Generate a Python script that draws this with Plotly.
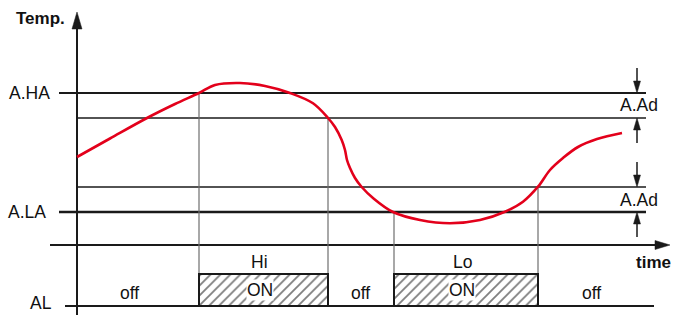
import plotly.graph_objects as go

# ---------------- data (time units / temperature units) ----------------
curve_time = [0, 33, 70, 98, 122, 138, 163, 188, 213, 236, 251, 258, 264.7, 268, 270, 273, 278, 284.7,
              296, 316, 343, 373, 403, 428, 446, 461, 473, 486, 501, 520, 545]
curve_temp = [88, 106.5, 127, 141, 152, 160, 162, 159, 152, 141.7, 127, 118, 105, 95, 85, 77, 67, 58,
              47, 33, 25, 21.7, 25, 33.3, 43.3, 58.3, 75, 87, 98, 106, 112]

A_HA = 152          # high alarm level
A_LA = 33           # low alarm level
A_Ad = 25           # alarm differential
level_labels = ["A.HA", "A.LA"]

# alarm ON intervals (start, end) and labels
on_start = [122, 317]
on_end = [251, 461]
on_labels = ["Hi", "Lo"]
off_centers = [52, 283, 514]

AL_base = -61       # alarm output baseline
AL_high = -29       # alarm output ON level
line_end = 569
AL_end = 577
ad_x = 560

BLACK = "#1a1a1a"
GREY = "#6e6e6e"
RED = "#e3001b"
FONT = "Liberation Sans, Arial, sans-serif"
BFONT = "Liberation Sans Narrow, Arial Narrow, Liberation Sans, Arial, sans-serif"

fig = go.Figure()

# alarm output boxes (hatched bars)
fig.add_trace(go.Bar(
    x=[(s + e) / 2 for s, e in zip(on_start, on_end)],
    y=[AL_high - AL_base] * len(on_start),
    base=[AL_base] * len(on_start),
    width=[e - s for s, e in zip(on_start, on_end)],
    marker=dict(color="white", line=dict(color=BLACK, width=2),
                pattern=dict(shape="/", fgcolor="#000", bgcolor="white", size=7, solidity=0.26)),
    hoverinfo="skip", showlegend=False,
))

# temperature curve
fig.add_trace(go.Scatter(
    x=curve_time, y=curve_temp, mode="lines",
    line=dict(color=RED, width=2.6, shape="spline", smoothing=1.0),
    hoverinfo="skip", showlegend=False,
))

shapes = []


def hline(y, x0, x1, w, color=BLACK):
    shapes.append(dict(type="line", xref="x", yref="y", x0=x0, x1=x1, y0=y, y1=y,
                       line=dict(color=color, width=w), layer="below"))


def vline(x, y0, y1, w, color=GREY):
    shapes.append(dict(type="line", xref="x", yref="y", x0=x, x1=x, y0=y0, y1=y1,
                       line=dict(color=color, width=w), layer="below"))


def head(tx, ty, dx, dy, length, width):
    # triangle arrowhead with tip (tx,ty) pointing along (dx,dy)
    bx, by = tx - dx * length, ty - dy * length
    px, py = -dy * width / 2, dx * width / 2
    path = f"M{tx},{ty} L{bx + px},{by + py} L{bx - px},{by - py} Z"
    shapes.append(dict(type="path", xref="x", yref="y", path=path,
                       fillcolor=BLACK, line=dict(color=BLACK, width=0.5), layer="below"))


# level lines
hline(A_HA, -18, line_end, 2)
hline(A_HA - A_Ad, 0, line_end, 1.3)
hline(A_LA + A_Ad, 0, line_end, 1.3)
hline(A_LA, -18, line_end, 2.4)
hline(AL_base, -12, AL_end, 2)

# axes
vline(0, -72, 222, 2, BLACK)
head(0, 233, 0, 1, 17, 10)
hline(0, -27, 582, 2)
head(593, 0, 1, 0, 15, 9)

# switching verticals
vline(on_start[0], A_HA, AL_high, 1.2)
vline(on_end[0], A_HA - A_Ad, AL_high, 1.2)
vline(on_start[1], A_LA, AL_high, 1.2)
vline(on_end[1], A_LA + A_Ad, AL_high, 1.2)

# differential arrows
for top in (A_HA, A_LA + A_Ad):
    vline(ad_x, top + 25, top + 10, 1.5, BLACK)
    head(ad_x, top, 0, -1, 12, 7)
    vline(ad_x, top - A_Ad - 25, top - A_Ad - 10, 1.5, BLACK)
    head(ad_x, top - A_Ad, 0, 1, 12, 7)

annotations = []


def txt(x, y, s, size=17.5, bold=False, xanchor="center", bg=None):
    a = dict(x=x, y=y, xref="x", yref="y", text=f"<b>{s}</b>" if bold else s,
             showarrow=False, xanchor=xanchor, yanchor="middle",
             font=dict(family=BFONT if bold else FONT, size=size, color="#111"))
    if bg:
        a.update(bgcolor=bg, borderpad=0)
    annotations.append(a)


txt(-10, 227, "Temp.", 17, True, "right")
txt(-48, A_HA, level_labels[0])
txt(-50, A_LA, level_labels[1])
txt(-36, -58, "AL")
txt(576, -17, "time", 17, True)
for c in off_centers:
    txt(c, -48, "off")
for s, e, lab in zip(on_start, on_end, on_labels):
    mid = (s + e) / 2
    txt(mid - 4, -17, lab)
    txt(mid - 4, -45, "ON", bg="white")
txt(562, A_HA - A_Ad / 2 + 1, "A.Ad")
txt(562, A_LA + A_Ad / 2 + 0, "A.Ad")

fig.update_layout(
    width=673, height=315,
    margin=dict(l=0, r=0, t=0, b=0),
    paper_bgcolor="white", plot_bgcolor="white",
    xaxis=dict(range=[-77, 596], visible=False, fixedrange=True),
    yaxis=dict(range=[-70, 245], visible=False, fixedrange=True),
    shapes=shapes, annotations=annotations, barmode="overlay",
)

fig.write_html("out.html", config={"displayModeBar": False},
               post_script="document.body.style.margin='0';document.body.style.overflow='hidden';")
